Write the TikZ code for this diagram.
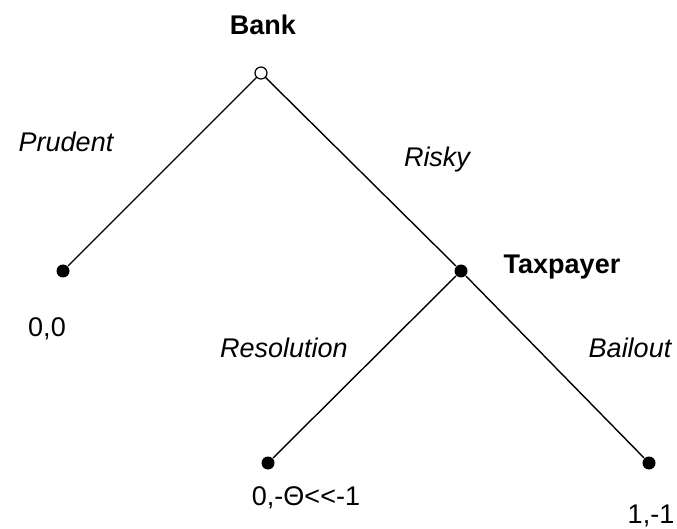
\documentclass[tikz,border=0pt]{standalone}
\usepackage{fontspec}
\setmainfont{Liberation Sans}
\usepackage{tikz}
\usetikzlibrary{positioning}

\tikzset{
  choice/.style={circle, draw, fill=white, line width=1.2pt, inner sep=0pt, minimum size=12pt},
  outcome/.style={circle, fill=black, inner sep=0pt, minimum size=13pt},
  txt/.style={inner sep=0pt, anchor=base, font=\fontsize{27}{32}\selectfont},
  player/.style={txt, font=\fontsize{27}{32}\selectfont\bfseries},
  action/.style={txt, font=\fontsize{27}{32}\selectfont\itshape},
  payoff/.style={txt}
}

\begin{document}
\begin{tikzpicture}[x=1pt, y=-1pt, line width=1.4pt]
    \useasboundingbox (0,0) rectangle (677,529);
    % decision points and end points of the game
    \node[choice]  (bank)  at (261,73)  {};
    \node[outcome] (tax)   at (461,271) {};
    \node[outcome] (prud)  at (63,271)  {};
    \node[outcome] (resol) at (268,463) {};
    \node[outcome] (bail)  at (649,463) {};

    % branches
    \draw (bank) -- (prud);
    \draw (bank) -- (tax);
    \draw (tax) -- (resol);
    \draw (tax) -- (bail);

    % who moves
    \node[player] (banklab) at (263,35) {Bank};
    \node[player, anchor=base west] (taxlab) at (503,273) {Taxpayer};

    % actions
    \node[action] (prudlab)  at (66,152)  {Prudent};
    \node[action] (riskylab) at (437,167) {Risky};
    \node[action] (resollab) at (284,357) {Resolution};
    \node[action] (baillab)  at (630,357) {Bailout};

    % payoffs
    \node[payoff] (pay1) at (47,336)  {0,0};
    \node[payoff] (pay2) at (306,505) {0,-Θ{<}{<}-1};
    \node[payoff] (pay3) at (651,523) {1,-1};
\end{tikzpicture}
\end{document}
